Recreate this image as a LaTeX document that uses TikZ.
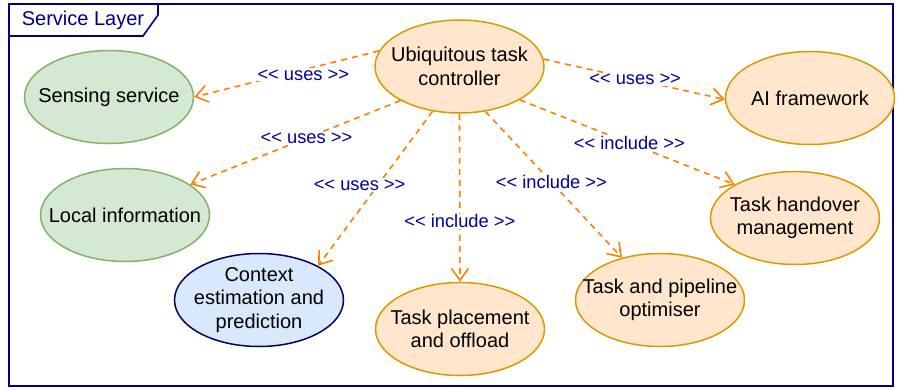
\documentclass[tikz,border=0pt]{standalone}
\usepackage{fontspec}
\setmainfont{Liberation Sans}
\usetikzlibrary{shapes.geometric,arrows.meta}
\definecolor{gfill}{HTML}{D5E8D4}
\definecolor{gline}{HTML}{82B366}
\definecolor{ofill}{HTML}{FFE6CC}
\definecolor{oline}{HTML}{D79B00}
\definecolor{bfill}{HTML}{DAE8FC}
\definecolor{bline}{HTML}{000066}
\definecolor{navy}{HTML}{000080}
\definecolor{lblue}{HTML}{000099}
\definecolor{arr}{HTML}{FF8000}
\tikzset{
  uc/.style={ellipse, draw, line width=1.5pt, minimum width=169pt, minimum height=93pt, inner sep=0pt},
  txt/.style={label={[align=center, font=\fontsize{20}{23.5}\selectfont, text=black]center:#1}},
  greenuc/.style={uc, fill=gfill, draw=gline},
  orangeuc/.style={uc, fill=ofill, draw=oline},
  blueuc/.style={uc, fill=bfill, draw=bline},
  rel/.style={draw=arr, line width=1.6pt, dash pattern=on 6pt off 5pt, -{Straight Barb[length=12pt,width=17pt]}},
  rlab/.style={fill=white, text=lblue, inner sep=1pt, font=\fontsize{18.3}{21}\selectfont},
  frame/.style={draw=navy, line width=1.6pt}
}
\begin{document}
\begin{tikzpicture}[x=1pt,y=-1pt]
\useasboundingbox (0,0) rectangle (898,389);
\draw[frame] (9,4) rectangle (893,386);
\draw[frame] (9,36) -- (143,36) -- (158,15) -- (158,4);
\node[text=navy, font=\fontsize{20}{23}\selectfont] (title) at (83,20) {Service Layer};

\node[orangeuc, txt={Ubiquitous task\\controller}] (ctrl) at (459.5,66.5) {};
\node[greenuc, txt={Sensing service}] (sens) at (109,97) {};
\node[greenuc, txt={Local information}] (local) at (125,215) {};
\node[blueuc, txt={Context\\estimation and\\prediction}] (ctx) at (259,300) {};
\node[orangeuc, txt={Task placement\\and offload}] (place) at (460,329) {};
\node[orangeuc, txt={Task and pipeline\\optimiser}] (pipe) at (660,300) {};
\node[orangeuc, txt={Task handover\\management}] (hand) at (795,218) {};
\node[orangeuc, txt={AI framework}] (ai) at (810,98) {};

\draw[rel] (ctrl.169.7) -- node[rlab, pos=0.41, yshift=-5pt] (l1) {{<}{<} uses {>}{>}} (sens.0);
\draw[rel] (ctrl.210.2) -- node[rlab, pos=0.447] (l2) {{<}{<} uses {>}{>}} (local.25);
\draw[rel] (ctrl.239.8) -- node[rlab, pos=0.48, xshift=-18pt] (l3) {{<}{<} uses {>}{>}} (ctx.30);
\draw[rel] (ctrl.270) -- node[rlab, pos=0.64] (l4) {{<}{<} include {>}{>}} (place.90);
\draw[rel] (ctrl.300.8) -- node[rlab, pos=0.483] (l5) {{<}{<} include {>}{>}} (pipe.132);
\draw[rel] (ctrl.331) -- node[rlab, pos=0.51] (l6) {{<}{<} include {>}{>}} (hand.151.3);
\draw[rel] (ctrl.5.8) -- node[rlab, pos=0.505] (l7) {{<}{<} uses {>}{>}} (ai.181);
\end{tikzpicture}
\end{document}
